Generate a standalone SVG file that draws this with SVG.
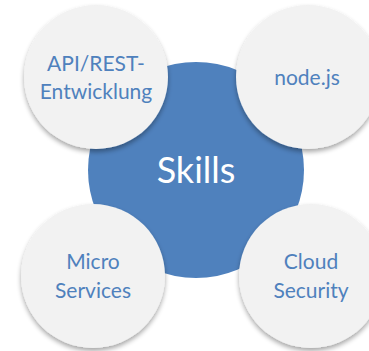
<svg xmlns="http://www.w3.org/2000/svg" width="369" height="351" viewBox="0 0 369 351">
<defs>
<filter id="sh" x="-20%" y="-20%" width="140%" height="145%">
<feGaussianBlur in="SourceAlpha" stdDeviation="2.5"/>
<feOffset dx="0" dy="3" result="b"/>
<feComponentTransfer><feFuncA type="linear" slope="0.35"/></feComponentTransfer>
<feMerge><feMergeNode/><feMergeNode in="SourceGraphic"/></feMerge>
</filter>
<style>
.sat{fill:#f2f2f2;filter:url(#sh)}
.lbl{font-family:Lato,"Open Sans",sans-serif;font-size:21px;fill:#4f81bd;text-anchor:middle}
.ctr{font-family:Lato,"Open Sans",sans-serif;font-size:36px;fill:#ffffff;text-anchor:middle}
</style>
</defs>
<rect width="369" height="351" fill="#ffffff"/>
<g id="skills">
<circle cx="196" cy="170" r="108" fill="#4f81bd"/>
<text class="ctr" x="196" y="183">Skills</text>
</g>
<g id="connectors"></g>
<g id="api">
<circle class="sat" cx="96" cy="77" r="72"/>
<text class="lbl" x="96" y="71">API/REST-</text>
<text class="lbl" x="96" y="99">Entwicklung</text>
</g>
<g id="node">
<circle class="sat" cx="308" cy="77" r="72"/>
<text class="lbl" x="307" y="85">node.js</text>
</g>
<g id="micro">
<circle class="sat" cx="93" cy="276" r="72"/>
<text class="lbl" x="93" y="269">Micro</text>
<text class="lbl" x="93" y="298">Services</text>
</g>
<g id="cloud">
<circle class="sat" cx="311" cy="276" r="72"/>
<text class="lbl" x="311" y="269">Cloud</text>
<text class="lbl" x="311" y="298">Security</text>
</g>
</svg>
